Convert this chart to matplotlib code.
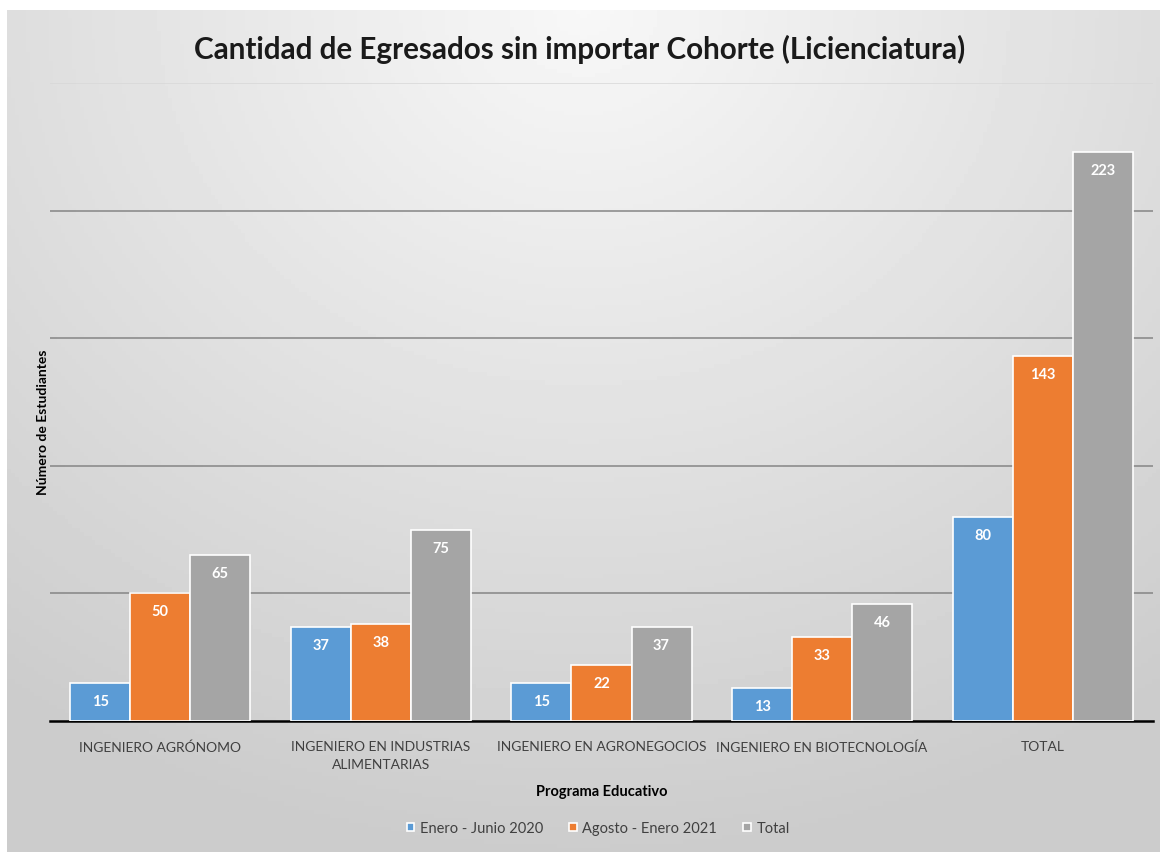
import numpy as np
import matplotlib
matplotlib.use("Agg")
import matplotlib.pyplot as plt

plt.rcParams['font.family'] = ['Lato', 'DejaVu Sans']

categories = ["INGENIERO AGRÓNOMO", "INGENIERO EN INDUSTRIAS\nALIMENTARIAS",
              "INGENIERO EN AGRONEGOCIOS", "INGENIERO EN BIOTECNOLOGÍA", "TOTAL"]
enero_junio = [15, 37, 15, 13, 80]
agosto_enero = [50, 38, 22, 33, 143]
total = [65, 75, 37, 46, 223]
series = [("Enero - Junio 2020", enero_junio, "#5B9BD5"),
          ("Agosto - Enero 2021", agosto_enero, "#ED7D31"),
          ("Total", total, "#A5A5A5")]

fig = plt.figure(figsize=(11.6, 8.53), dpi=100)
fig.patch.set_facecolor("white")

# gradient background (chart area)
bg = fig.add_axes([7/1160, 0, 1 - 7/1160, 1 - 11/853], zorder=0)
yy, xx = np.mgrid[0:1:200j, 0:1:300j]
r = np.sqrt(((xx - 0.5) * 1.2) ** 2 + ((yy - 1.0) * 1.0) ** 2)
shade = np.clip(0.97 - 0.17 * r, 0.80, 0.97)
bg.imshow(shade, cmap="gray", vmin=0, vmax=1, origin="lower", aspect="auto",
          extent=[0, 1, 0, 1])
bg.set_axis_off()

ax = fig.add_axes([50/1160, 1 - 722/853, (1153 - 50)/1160, (722 - 84)/853], zorder=1)
ax.set_facecolor("none")

x = np.arange(len(categories))
w = 0.272
for i, (name, vals, col) in enumerate(series):
    bars = ax.bar(x + (i - 1) * w, vals, w, color=col, edgecolor="white",
                  linewidth=1.2, label=name, zorder=3)
    for b, v in zip(bars, vals):
        ax.annotate(str(v), (b.get_x() + b.get_width() / 2, v), xytext=(0, -13),
                    textcoords="offset points", ha="center", va="center",
                    color="white", fontsize=10.5, fontweight="bold", zorder=4)

ax.set_xlim(-0.5, len(categories) - 0.5)
ax.set_ylim(0, 250)
ax.set_yticks([50, 100, 150, 200, 250])
ax.yaxis.grid(True, color="#858585", linewidth=1.1, zorder=1)
ax.get_ygridlines()[-1].set_color("#d8d8d8")
ax.tick_params(axis="y", left=False, labelleft=False)
ax.tick_params(axis="x", length=0, pad=14, labelsize=10, labelcolor="#404040")
ax.set_xticks(x)
ax.set_xticklabels(categories, linespacing=1.55, va="top")
for s in ["top", "right", "left"]:
    ax.spines[s].set_visible(False)
ax.spines["bottom"].set_color("black")
ax.spines["bottom"].set_linewidth(1.8)

ax.set_xlabel("Programa Educativo", fontsize=10.5, fontweight="bold", labelpad=10)
ax.set_ylabel("Número de Estudiantes", fontsize=10, fontweight="bold")
ax.yaxis.set_label_coords(-0.001, 0.47)

fig.text(0.5, 1 - 49/853, "Cantidad de Egresados sin importar Cohorte (Licienciatura)",
         ha="center", va="center", fontsize=21.3, fontweight="bold", color="#1a1a1a")

ax.legend(loc="center", bbox_to_anchor=(0.497, (722 - 829) / (722 - 84)), ncol=3,
          frameon=False, fontsize=10.5, handlelength=0.5, handleheight=0.5,
          handletextpad=0.4, columnspacing=1.8, labelcolor="#404040")

fig.savefig("out.png", dpi=100)
